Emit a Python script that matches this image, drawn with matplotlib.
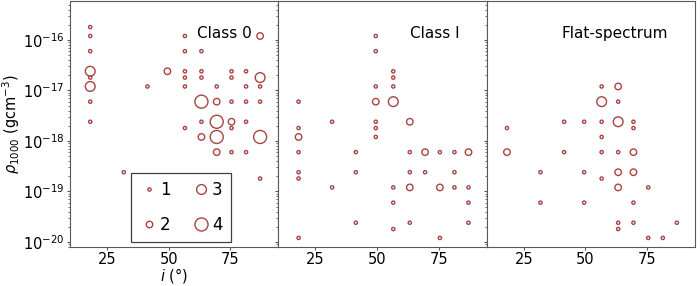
import numpy as np
import matplotlib
matplotlib.use("Agg")
import matplotlib.pyplot as plt
from matplotlib.lines import Line2D

# inclination grid (deg) and density values
incl_class0 = [18.2, 18.2, 18.2, 18.2, 18.2, 18.2, 18.2, 18.2,
               31.8, 41.4, 49.5,
               56.6, 56.6, 56.6, 56.6, 56.6, 56.6,
               63.3, 63.3, 63.3, 63.3, 63.3, 63.3,
               69.5, 69.5, 69.5, 69.5, 69.5,
               75.5, 75.5, 75.5, 75.5, 75.5, 75.5,
               81.4, 81.4, 81.4, 81.4, 81.4,
               87.1, 87.1, 87.1, 87.1, 87.1, 87.1]
rho_class0 = [1.8e-16, 1.2e-16, 6e-17, 2.4e-17, 1.8e-17, 1.2e-17, 6e-18, 2.4e-18,
              2.4e-19, 1.2e-17, 2.4e-17,
              1.2e-16, 6e-17, 2.4e-17, 1.8e-17, 1.2e-17, 1.8e-18,
              6e-17, 2.4e-17, 1.8e-17, 6e-18, 2.4e-18, 1.2e-18,
              1.2e-17, 6e-18, 2.4e-18, 1.2e-18, 6e-19,
              2.4e-17, 1.8e-17, 6e-18, 2.4e-18, 1.8e-18, 6e-19,
              2.4e-17, 1.2e-17, 6e-18, 2.4e-18, 6e-19,
              1.2e-16, 1.8e-17, 1.2e-17, 6e-18, 1.2e-18, 1.8e-19]
count_class0 = [1, 1, 1, 3, 1, 3, 1, 1,
                1, 1, 2,
                1, 1, 1, 1, 1, 1,
                1, 1, 1, 4, 1, 2,
                1, 2, 4, 4, 2,
                1, 1, 1, 2, 1, 1,
                1, 1, 1, 1, 1,
                2, 3, 1, 1, 4, 1]

incl_class1 = [18.2, 18.2, 18.2, 18.2, 18.2, 18.2, 18.2,
               31.8, 31.8,
               41.4, 41.4, 41.4,
               49.5, 49.5, 49.5, 49.5, 49.5, 49.5, 49.5,
               56.6, 56.6, 56.6, 56.6, 56.6, 56.6, 56.6,
               63.3, 63.3, 63.3, 63.3, 63.3,
               69.5, 69.5,
               75.5, 75.5, 75.5,
               81.4, 81.4, 81.4,
               87.1, 87.1, 87.1, 87.1]
rho_class1 = [6e-18, 1.8e-18, 1.2e-18, 6e-19, 2.4e-19, 1.8e-19, 1.2e-20,
              2.4e-18, 1.2e-19,
              6e-19, 2.4e-19, 2.4e-20,
              1.2e-16, 6e-17, 1.2e-17, 6e-18, 2.4e-18, 1.8e-18, 1.2e-18,
              2.4e-17, 1.8e-17, 1.2e-17, 6e-18, 1.2e-19, 6e-20, 1.8e-20,
              2.4e-18, 6e-19, 2.4e-19, 1.2e-19, 2.4e-20,
              6e-19, 2.4e-19,
              6e-19, 1.2e-19, 1.2e-20,
              6e-19, 2.4e-19, 1.2e-19,
              6e-19, 1.2e-19, 6e-20, 2.4e-20]
count_class1 = [1, 1, 2, 1, 1, 1, 1,
                1, 1,
                1, 1, 1,
                1, 1, 1, 2, 1, 1, 1,
                1, 1, 1, 3, 1, 1, 1,
                2, 1, 1, 2, 1,
                2, 1,
                1, 2, 1,
                1, 1, 1,
                2, 1, 1, 1]

incl_flat = [18.2, 18.2,
             31.8, 31.8,
             41.4, 41.4,
             49.5, 49.5, 49.5,
             56.6, 56.6, 56.6, 56.6, 56.6, 56.6,
             63.3, 63.3, 63.3, 63.3, 63.3, 63.3, 63.3, 63.3,
             69.5, 69.5, 69.5, 69.5, 69.5, 69.5,
             75.5, 75.5,
             81.4, 87.1]
rho_flat = [1.8e-18, 6e-19,
            2.4e-19, 6e-20,
            2.4e-18, 6e-19,
            2.4e-18, 2.4e-19, 6e-20,
            1.2e-17, 6e-18, 2.4e-18, 1.2e-18, 6e-19, 1.8e-19,
            1.2e-17, 6e-18, 2.4e-18, 6e-19, 2.4e-19, 1.2e-19, 2.4e-20, 1.8e-20,
            2.4e-18, 1.8e-18, 6e-19, 2.4e-19, 6e-20, 2.4e-20,
            1.2e-19, 1.2e-20,
            1.2e-20, 2.4e-20]
count_flat = [1, 2,
              1, 1,
              1, 1,
              1, 1, 1,
              1, 3, 1, 1, 1, 1,
              2, 1, 3, 1, 2, 2, 1, 1,
              1, 1, 2, 2, 1, 1,
              1, 1,
              1, 1]

panels = [("Class 0", incl_class0, rho_class0, count_class0),
          ("Class I", incl_class1, rho_class1, count_class1),
          ("Flat-spectrum", incl_flat, rho_flat, count_flat)]

color = "#a94442"
frame = "0.35"
scale = 5.5  # marker area per count^2

fig, axes = plt.subplots(1, 3, sharey=True, figsize=(7, 2.86), dpi=100)
fig.subplots_adjust(left=0.1, right=0.993, bottom=0.137, top=0.995, wspace=0)

for ax, (name, incl, rho, cnt) in zip(axes, panels):
    s = scale * np.array(cnt) ** 2
    ax.scatter(incl, rho, s=s, facecolors="none", edgecolors=color, linewidths=1.0)
    ax.set_yscale("log")
    ax.set_xlim(10, 94.5)
    ax.set_ylim(8e-21, 5.8e-16)
    ax.set_xticks([25, 50, 75])
    ax.text(0.87, 0.87, name, transform=ax.transAxes, ha="right", va="center", fontsize=11)
    for sp in ax.spines.values():
        sp.set_color(frame)
    ax.tick_params(axis="both", which="major", labelsize=10.5, color=frame, length=2.5, pad=1.2)
    ax.tick_params(axis="both", which="minor", color=frame, length=1.5)

axes[0].set_yticks([1e-20, 1e-19, 1e-18, 1e-17, 1e-16])
axes[0].set_ylabel(r"$\rho_{1000}$ (gcm$^{-3}$)", fontsize=10.5, labelpad=0.8)
axes[0].set_xlabel(r"$i$ ($\degree$)", fontsize=10.5, labelpad=-0.5)

handles = [Line2D([], [], ls="", marker="o", mfc="none", mec=color, mew=1.0,
                  ms=np.sqrt(scale) * n, label=str(n)) for n in [1, 2, 3, 4]]
leg = axes[0].legend(handles=handles, ncol=2, loc="lower left", bbox_to_anchor=(0.295, 0.02),
                     borderaxespad=0, fontsize=12, fancybox=False, framealpha=1,
                     edgecolor="0.25", handlelength=1.1, handletextpad=0.1,
                     columnspacing=1.3, labelspacing=1.0, borderpad=0.5)
leg.get_frame().set_linewidth(0.9)

fig.savefig("out.png", dpi=100)
